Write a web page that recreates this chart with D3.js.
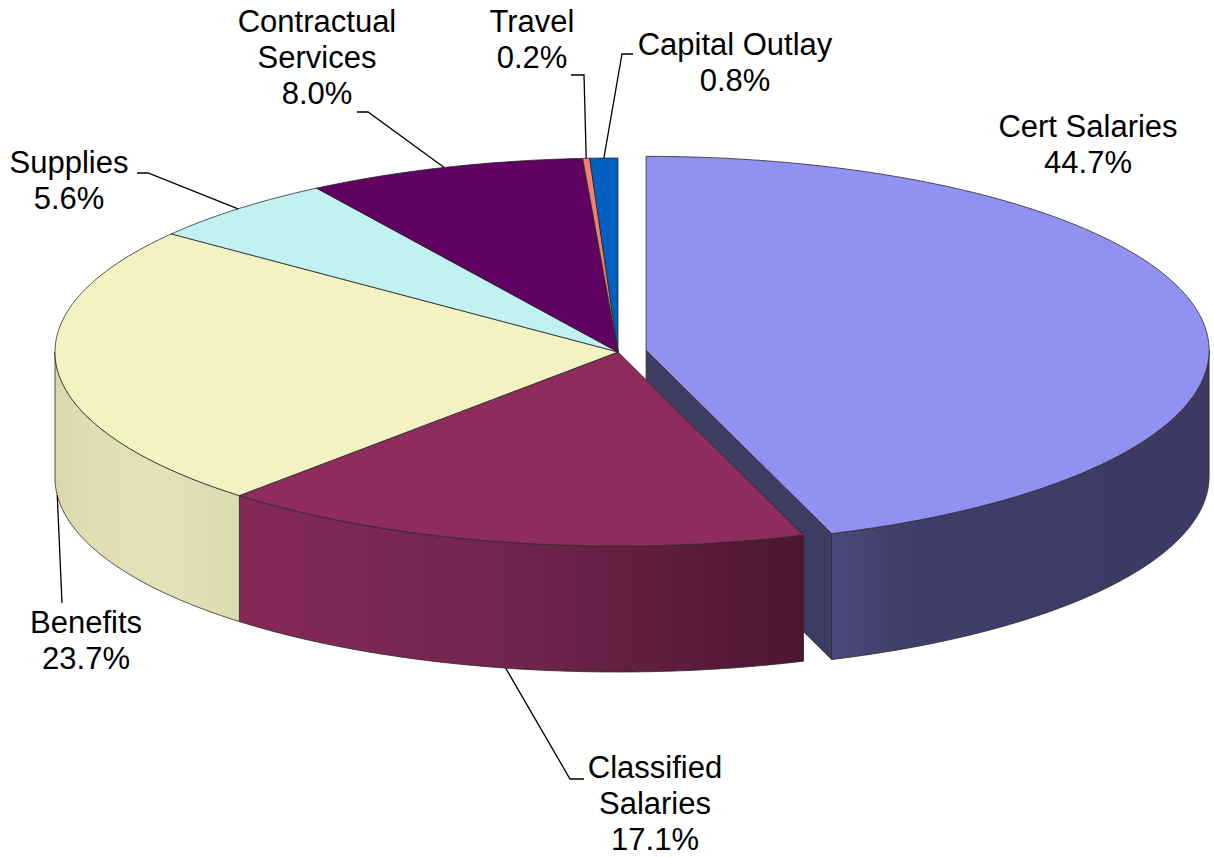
<!DOCTYPE html>
<html>
<head>
<meta charset="utf-8">
<script src="https://cdn.jsdelivr.net/npm/d3@7.9.0/dist/d3.min.js"></script>
<style>
  html, body { margin: 0; padding: 0; background: #fff; }
  svg { display: block; }
  text { font-family: "Liberation Sans", Arial, sans-serif; font-size: 31px; fill: #000; }
</style>
</head>
<body>
<svg id="chart" width="1214" height="857"></svg>
<script>
// data
const categories = ["Cert Salaries", "Classified Salaries", "Benefits", "Supplies", "Contractual Services", "Travel", "Capital Outlay"];
const shares = [44.7, 17.1, 23.7, 5.6, 8.0, 0.2, 0.8];
const labelLines = [["Cert Salaries"], ["Classified", "Salaries"], ["Benefits"], ["Supplies"], ["Contractual", "Services"], ["Travel"], ["Capital Outlay"]];

// colours
const topColors = ["#9191F1", "#8E2D5D", "#F2F2C3", "#C1F1F1", "#600060", "#F08070", "#0060C0"];
const wallStops = [
  [[0, "#4B4A7E"], [0.18, "#3F3E69"], [1, "#3C3A62"]],
  [[0, "#85295A"], [0.5, "#70244C"], [1, "#4D1632"]],
  [[0, "#D9D7AB"], [0.2, "#E0DEB3"], [0.6, "#E3E1B8"], [1, "#DCDAAF"]],
  [[0, "#9CC4C4"], [1, "#9CC4C4"]],
  [[0, "#4A004A"], [1, "#4A004A"]],
  [[0, "#C06858"], [1, "#C06858"]],
  [[0, "#004C99"], [1, "#004C99"]]
];
const faceColors = ["#3D3C63", "#6E2448", "#DEDCB2", "#A8D4D4", "#4A004A", "#C06858", "#004C99"];

// layout
const cx = 618, cy = 352, rx = 563, ry = 194, depth = 126;
const explode = [28.5, 0, 0, 0, 0, 0, 0];
const lineGap = 36;
// label placement: text centre, first baseline, leader elbow and end
const labelPos = [
  { x: 1088, y: 137 },
  { x: 655, y: 778, elbow: [570, 779], end: 584 },
  { x: 86, y: 633, elbow: [62, 603], end: 62 },
  { x: 69, y: 173, elbow: [148, 173], end: 137 },
  { x: 317, y: 32, elbow: [368, 112], end: 357 },
  { x: 532, y: 32, elbow: [584, 75], end: 571 },
  { x: 735, y: 55, elbow: [622, 54], end: 633 }
];

const svg = d3.select("#chart");
const defs = svg.append("defs");
const fmt = d3.format(".1f");

const pie = d3.pie().sort(null).value(d => d).startAngle(0).endAngle(2 * Math.PI);
const arcs = pie(shares).map((a, i) => {
  const mid = (a.startAngle + a.endAngle) / 2;
  const e = explode[i];
  return Object.assign(a, { i, mid, o: { dx: e * Math.sin(mid), dy: -e * Math.cos(mid) * ry / rx } });
});

function pt(a, o, z = 0, r = 1) {
  return [cx + o.dx + rx * r * Math.sin(a), cy + o.dy - ry * r * Math.cos(a) + z];
}
function arcPts(a0, a1, o, z) {
  const n = Math.max(2, Math.ceil((a1 - a0) / (Math.PI / 360)));
  return d3.range(n + 1).map(k => pt(a0 + (a1 - a0) * k / n, o, z));
}
const poly = pts => "M" + pts.map(p => p[0].toFixed(2) + "," + p[1].toFixed(2)).join("L") + "Z";

// wall gradients
wallStops.forEach((stops, i) => {
  const g = defs.append("linearGradient").attr("id", "wall" + i)
    .attr("x1", 0).attr("x2", 1).attr("y1", 0).attr("y2", 0);
  stops.forEach(s => g.append("stop").attr("offset", s[0]).attr("stop-color", s[1]));
});

const gFaces = svg.append("g");
const gWalls = svg.append("g");
const gTops = svg.append("g");
const strokeCol = "#2a2a2a";

arcs.forEach(d => {
  const { startAngle: a0, endAngle: a1, o, i } = d;
  const apex = pt(0, o, 0, 0), apexB = pt(0, o, depth, 0);

  // radial cut faces that face the viewer
  if (Math.sin(a1) > 0.01) {
    gFaces.append("path")
      .attr("d", poly([apex, pt(a1, o), pt(a1, o, depth), apexB]))
      .attr("fill", faceColors[i]).attr("stroke", strokeCol).attr("stroke-width", 0.8)
      .attr("stroke-linejoin", "round");
  }
  if (Math.sin(a0) < -0.01) {
    gFaces.append("path")
      .attr("d", poly([apex, pt(a0, o), pt(a0, o, depth), apexB]))
      .attr("fill", faceColors[i]).attr("stroke", strokeCol).attr("stroke-width", 0.8)
      .attr("stroke-linejoin", "round");
  }

  // outer wall, front half only
  const s = Math.max(a0, Math.PI / 2), e = Math.min(a1, 3 * Math.PI / 2);
  if (e > s) {
    const top = arcPts(s, e, o, 0), bot = arcPts(s, e, o, depth).reverse();
    gWalls.append("path")
      .attr("d", poly(top.concat(bot)))
      .attr("fill", `url(#wall${i})`).attr("stroke", strokeCol).attr("stroke-width", 0.8)
      .attr("stroke-linejoin", "round");
  }

  // top face
  gTops.append("path")
    .attr("d", poly([apex].concat(arcPts(a0, a1, o, 0))))
    .attr("fill", topColors[i]).attr("stroke", strokeCol).attr("stroke-width", 0.8)
    .attr("stroke-linejoin", "round");
});

// labels and leader lines
const gLabels = svg.append("g");
arcs.forEach(d => {
  const i = d.i, lp = labelPos[i];
  const front = Math.cos(d.mid) < 0;
  const anchor = pt(d.mid, d.o, front ? depth : 0);
  if (lp.elbow) {
    const pts = [anchor, lp.elbow, [lp.end, lp.elbow[1]]];
    gLabels.append("path")
      .attr("d", d3.line()(pts))
      .attr("fill", "none").attr("stroke", "#000").attr("stroke-width", 1.3);
  }
  const lines = labelLines[i].concat([fmt(shares[i]) + "%"]);
  const t = gLabels.append("text").attr("text-anchor", "middle");
  lines.forEach((ln, k) => {
    t.append("tspan").attr("x", lp.x).attr("y", lp.y + k * lineGap).text(ln);
  });
});
</script>
</body>
</html>
